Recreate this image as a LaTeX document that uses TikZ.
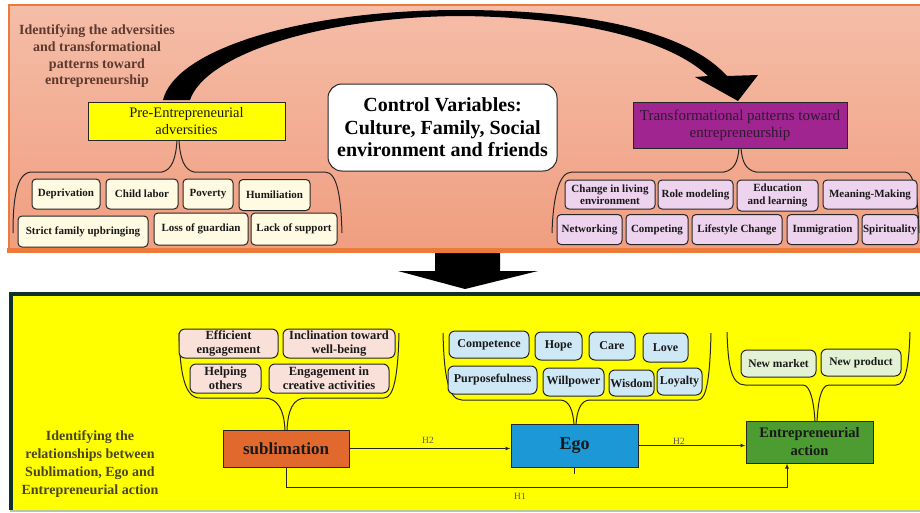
\documentclass[tikz,border=0pt]{standalone}
\usepackage{fontspec}
\setmainfont{Liberation Serif}
\usetikzlibrary{arrows.meta}
\definecolor{topA}{HTML}{F5BDA8}
\definecolor{topB}{HTML}{F09E80}
\definecolor{orangeB}{HTML}{EC7A3A}
\definecolor{yellowN}{HTML}{FFFF00}
\definecolor{purpleN}{HTML}{A02590}
\definecolor{transT}{HTML}{2E1A2E}
\definecolor{preItem}{HTML}{FFFBE2}
\definecolor{transItem}{HTML}{EDD3EE}
\definecolor{subItem}{HTML}{F9E1D9}
\definecolor{egoItem}{HTML}{CFE8F5}
\definecolor{entItem}{HTML}{E3F1D4}
\definecolor{yellowP}{HTML}{FFFF00}
\definecolor{darkB}{HTML}{10302A}
\definecolor{orangeN}{HTML}{E2692E}
\definecolor{blueN}{HTML}{1B98D5}
\definecolor{greenN}{HTML}{4C9C32}
\definecolor{brownT}{HTML}{5C3A2E}
\definecolor{oliveT}{HTML}{4A4520}
\definecolor{bottomLine}{HTML}{B8C8A0}
\newcommand\myfs[2]{\fontsize{#1}{#2}\selectfont}
\tikzset{
  mainbox/.style={draw=black!85, line width=1pt, inner sep=0pt, align=center, text=black!90},
  itembox/.style={draw=black!85, line width=1pt, rounded corners=4pt, inner sep=0pt, align=center, text=black!90},
  preitem/.style={itembox, fill=preItem, font=\myfs{11}{12}\bfseries},
  transitem/.style={itembox, fill=transItem, font=\myfs{11}{12.5}\bfseries},
  subitem/.style={itembox, rounded corners=6pt, fill=subItem, font=\myfs{12.5}{14}\bfseries},
  egoitem/.style={itembox, rounded corners=6pt, fill=egoItem, font=\myfs{12}{14}\bfseries},
  entitem/.style={itembox, rounded corners=6pt, fill=entItem, font=\myfs{11.5}{14}\bfseries},
  brace/.style={draw=black!85, line width=1pt},
  conn/.style={draw=black!85, line width=1pt},
  arr/.style={-{Latex[length=5pt,width=4pt]}},
  hlabel/.style={font=\myfs{9.5}{11}, text=black!65, inner sep=0pt}
}
\begin{document}
\begin{tikzpicture}[x=1pt,y=-1pt]
\useasboundingbox (0,0) rectangle (920,512);
\clip (0,0) rectangle (920,512);
\fill[white] (0,0) rectangle (920,512);
% top panel
\shade[top color=topA, bottom color=topB] (9,5) rectangle (925,250);
\draw[orangeB, line width=2pt] (925,4.5) -- (8.5,4.5) -- (8.5,250);
\draw[orangeB, line width=4.5pt] (6.5,250.5) -- (925,250.5);
% big down arrow
\fill[black] (435,253) -- (500,253) -- (500,271) -- (538,271) -- (465,289) -- (398,271) -- (435,271) -- cycle;
% bottom panel
\fill[yellowP] (10,294) rectangle (925,510);
\draw[darkB, line width=3.5pt] (10.75,510) -- (10.75,293.75) -- (925,293.75);
\draw[bottomLine, line width=2pt] (10,511) -- (925,511);
% curved arrow
\fill[black] (163,100) .. controls (175,50) and (300,10) .. (460,10)
  .. controls (600,10) and (690,35) .. (727,76) -- (758,75) -- (738,101) -- (695,77) -- (708,76)
  .. controls (670,40) and (580,17) .. (460,16)
  .. controls (320,17) and (205,55) .. (190,100) -- cycle;
% titles
\node[font=\myfs{14}{16.7}\bfseries, text=brownT, align=center] (title1) at (97,56.5)
  {Identifying the adversities\\and transformational\\patterns toward\\entrepreneurship};
\node[font=\myfs{14}{18}\bfseries, text=oliveT, align=center] (title2) at (90,464)
  {Identifying the\\relationships between\\Sublimation, Ego and\\Entrepreneurial action};
% main top nodes
\node[mainbox, fill=yellowN, minimum width=197pt, minimum height=38pt, font=\myfs{14.5}{17}] (pre) at (186.5,121) {Pre-Entrepreneurial\\adversities};
\node[draw=black!85, line width=1pt, fill=white, rounded corners=14pt, minimum width=229pt, minimum height=87pt, inner sep=0pt, align=center, font=\myfs{20}{22.5}\bfseries] (ctrl) at (442.5,127.5) {Control Variables:\\Culture, Family, Social\\environment and friends};
\node[mainbox, fill=purpleN, text=transT, minimum width=214pt, minimum height=46pt, font=\myfs{15}{17}] (trans) at (740,125) {Transformational patterns toward\\entrepreneurship};
% pre brace
\draw[brace] (177,140) .. controls (176,158) and (172,170) .. (162,172) -- (32,172) .. controls (16,172) and (13,200) .. (13,233);
\draw[brace] (179,140) .. controls (180,158) and (184,170) .. (194,172) -- (325,172) .. controls (338,172) and (341,200) .. (342,233);
% trans brace
\draw[brace] (739,148) .. controls (738,162) and (734,170) .. (724,172) -- (572,172) .. controls (558,172) and (553,200) .. (552,233);
\draw[brace] (741,148) .. controls (742,162) and (746,170) .. (756,172) -- (905,172) .. controls (915,172) and (918,200) .. (919,233);
% pre items
\node[preitem, minimum width=68pt, minimum height=30pt] (dep) at (66,194) {Deprivation};
\node[preitem, minimum width=72pt, minimum height=30pt] (child) at (142,194) {Child labor};
\node[preitem, minimum width=50pt, minimum height=30pt] (pov) at (208,194) {Poverty};
\node[preitem, minimum width=71pt, minimum height=31pt] (hum) at (274.5,195) {Humiliation};
\node[preitem, minimum width=130pt, minimum height=31pt] (strict) at (83,231.5) {Strict family upbringing};
\node[preitem, minimum width=94pt, minimum height=32pt] (loss) at (201,229) {Loss of guardian};
\node[preitem, minimum width=86pt, minimum height=32pt] (lack) at (294,229) {Lack of support};
% trans items
\node[transitem, minimum width=90pt, minimum height=29pt] (chg) at (610,194.5) {Change in living\\environment};
\node[transitem, minimum width=75pt, minimum height=29pt] (role) at (695.5,194.5) {Role modeling};
\node[transitem, minimum width=81pt, minimum height=31pt] (edu) at (777.5,195.5) {Education\\and learning};
\node[transitem, minimum width=94pt, minimum height=29pt] (mean) at (870,194.5) {Meaning-Making};
\node[transitem, minimum width=65pt, minimum height=30pt] (net) at (589.5,229.5) {Networking};
\node[transitem, minimum width=62pt, minimum height=30pt] (comp) at (657,229.5) {Competing};
\node[transitem, minimum width=90pt, minimum height=30pt] (life) at (737,229.5) {Lifestyle Change};
\node[transitem, minimum width=71pt, minimum height=30pt] (immi) at (822.5,229.5) {Immigration};
\node[transitem, minimum width=56pt, minimum height=30pt] (spir) at (890,229.5) {Spirituality};
% bottom main nodes
\node[mainbox, fill=orangeN, minimum width=126pt, minimum height=37pt, font=\myfs{17}{20}\bfseries] (sub) at (286,448.5) {sublimation};
\node[mainbox, fill=blueN, minimum width=127pt, minimum height=43pt, font=\myfs{18}{20}\bfseries] (ego) at (574.5,445.5) {Ego};
\node[mainbox, fill=greenN, minimum width=127pt, minimum height=42pt, font=\myfs{14.5}{18}\bfseries] (ent) at (809.5,442) {Entrepreneurial\\action};
% sub brace
\draw[brace] (179,333) .. controls (180,375) and (185,398) .. (200,398) -- (264,398) .. controls (278,398) and (284,410) .. (285,430);
\draw[brace] (287,430) .. controls (288,410) and (293,398) .. (306,398) -- (384,398) .. controls (394,398) and (398,375) .. (399,333);
% ego brace
\draw[brace] (443,333) .. controls (444,375) and (448,400) .. (462,400) -- (560,400) .. controls (570,400) and (573,412) .. (574,424);
\draw[brace] (576,424) .. controls (577,412) and (580,400) .. (590,400) -- (698,400) .. controls (707,400) and (710,375) .. (711,333);
% ent brace
\draw[brace] (727,332) .. controls (728,365) and (731,385) .. (745,385) -- (803,385) .. controls (811,385) and (814,405) .. (815,421);
\draw[brace] (817,421) .. controls (818,405) and (820,385) .. (829,385) -- (896,385) .. controls (906,385) and (909,365) .. (910,332);
% sub items
\node[subitem, minimum width=99pt, minimum height=29pt] (eff) at (228.5,343.5) {Efficient\\engagement};
\node[subitem, minimum width=112pt, minimum height=29pt] (incl) at (339,343.5) {Inclination toward\\well-being};
\node[subitem, minimum width=71pt, minimum height=29pt] (help) at (225.5,378.5) {Helping\\others};
\node[subitem, minimum width=120pt, minimum height=29pt] (creat) at (329,378.5) {Engagement in\\creative activities};
% ego items
\node[egoitem, minimum width=80pt, minimum height=27pt] (compt) at (489,344.5) {Competence};
\node[egoitem, minimum width=47pt, minimum height=28pt] (hope) at (558.5,346) {Hope};
\node[egoitem, minimum width=46pt, minimum height=28pt] (care) at (612,346) {Care};
\node[egoitem, minimum width=45pt, minimum height=29pt] (love) at (665.5,347.5) {Love};
\node[egoitem, minimum width=89pt, minimum height=28pt] (purp) at (492.5,380) {Purposefulness};
\node[egoitem, minimum width=61pt, minimum height=28pt] (will) at (573.5,382) {Willpower};
\node[egoitem, minimum width=45pt, minimum height=26pt] (wis) at (631.5,383) {Wisdom};
\node[egoitem, minimum width=45pt, minimum height=27pt] (loy) at (679.5,381.5) {Loyalty};
% ent items
\node[entitem, minimum width=75pt, minimum height=27pt] (nmk) at (778.5,363.5) {New market};
\node[entitem, minimum width=80pt, minimum height=27pt] (npr) at (861,362.5) {New product};
% connectors
\draw[conn, arr] (sub.east) -- (ego.west |- sub.east);
\draw[conn, arr] (ego.east) -- (ent.west |- ego.east);
\coordinate (h1turn) at (787,487);
\draw[conn, arr] (sub.south) -- (sub.south |- h1turn) -- (h1turn) -- (h1turn |- ent.south);
\draw[conn] (ego.south) -- ++(0,6);
\node[hlabel] (lh2a) at (428,440) {H2};
\node[hlabel] (lh2b) at (679,441) {H2};
\node[hlabel] (lh1) at (520,496) {H1};
\end{tikzpicture}
\end{document}
